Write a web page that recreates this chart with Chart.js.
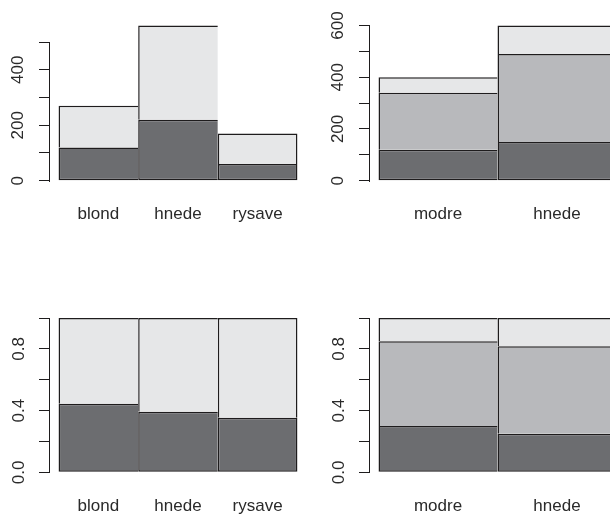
<!DOCTYPE html>
<html>
<head>
<meta charset="utf-8">
<script src="https://cdn.jsdelivr.net/npm/chart.js@4.4.1/dist/chart.umd.min.js"></script>
<style>
  html, body { margin: 0; padding: 0; background: #fff; }
  body { width: 610px; height: 515px; overflow: hidden; position: relative; }
  .panel { position: absolute; }
</style>
</head>
<body>
<div class="panel" style="left:0;top:0;width:307px;height:257px"><canvas id="c1"></canvas></div>
<div class="panel" style="left:320px;top:0;width:306px;height:257px"><canvas id="c2"></canvas></div>
<div class="panel" style="left:0;top:292px;width:307px;height:223px"><canvas id="c3"></canvas></div>
<div class="panel" style="left:320px;top:292px;width:306px;height:223px"><canvas id="c4"></canvas></div>
<script>
// categories
const hair = ["blond", "hnede", "rysave"];
const eyes = ["modre", "hnede"];

// counts per hair colour (one array per eye colour)
const eyeModre = [120, 220, 60];
const eyeHnede = [150, 340, 110];

// counts per eye colour (one array per hair colour)
const hairBlond = [120, 150];
const hairHnede = [220, 340];
const hairRysave = [60, 110];

// proportions inside each hair colour
const propModre = [0.444, 0.393, 0.353];
const propHnede = [0.556, 0.607, 0.647];

// proportions inside each eye colour
const propBlond = [0.30, 0.25];
const propHnedeHair = [0.55, 0.567];
const propRysave = [0.15, 0.183];

// y ticks and the ones that get a label
const ticksTop1 = [0, 100, 200, 300, 400, 500];
const labelsTop1 = [0, 200, 400];
const ticksTop2 = [0, 100, 200, 300, 400, 500, 600];
const labelsTop2 = [0, 200, 400, 600];
const ticksProp = [0, 0.2, 0.4, 0.6, 0.8, 1];
const labelsProp = [0, 0.4, 0.8];

const DARK = "#6c6d70", MID = "#b8b9bc", LIGHT = "#e6e7e8", INK = "#1e1c1d";
const FONT = { family: "'Liberation Sans', Arial, Helvetica, sans-serif", size: 17 };
const TXT = "#2a2a2a";
const BW = 1.5;

// axis line only from first to last tick, like R
const spine = {
    id: "spine",
    afterDraw(chart) {
        const s = chart.scales.y, ctx = chart.ctx;
        const t = s.ticks;
        const x = Math.round(s.right) + 0.5;
        const y0 = Math.round(s.getPixelForValue(t[0].value)) + 1;
        const y1 = Math.round(s.getPixelForValue(t[t.length - 1].value));
        ctx.save();
        ctx.strokeStyle = INK;
        ctx.lineWidth = 1;
        ctx.beginPath();
        ctx.moveTo(x, y0);
        ctx.lineTo(x, y1);
        ctx.stroke();
        ctx.restore();
    }
};

function makeChart(id, cats, series, yTicks, yLabels, fmt, lay) {
    const n = cats.length;
    // R style limits: -1% of max, then 4% extension
    const hi = Math.max(...cats.map((c, i) => series.reduce((s, d) => s + d.data[i], 0)));
    const lo = -0.01 * hi;
    const ext = (hi - lo) * 0.04;

    return new Chart(document.getElementById(id), {
        type: "bar",
        data: {
            datasets: series.map((d, k) => ({
                data: d.data.map((v, i) => ({ x: i, y: v })),
                backgroundColor: d.color,
                borderColor: INK,
                borderSkipped: false,
                inflateAmount: 0,
                borderWidth: ctx => ({
                    top: BW,
                    left: BW,
                    right: ctx.dataIndex === n - 1 ? BW : 0,
                    bottom: k === 0 ? BW : 0
                }),
                barPercentage: 1,
                categoryPercentage: 1
            }))
        },
        options: {
            responsive: true,
            maintainAspectRatio: false,
            animation: false,
            layout: { padding: { top: lay.padTop, right: 0, bottom: 0, left: 0 } },
            plugins: { legend: { display: false }, tooltip: { enabled: false } },
            scales: {
                x: {
                    type: "linear",
                    stacked: true,
                    offset: false,
                    bounds: "data",
                    min: -0.5 - 0.04 * n,
                    max: n - 0.5 + 0.04 * n,
                    afterBuildTicks: s => { s.ticks = cats.map((c, i) => ({ value: i })); },
                    afterFit: s => { s.height = lay.xHeight; },
                    grid: { display: false, drawTicks: false, offset: false },
                    border: { display: false },
                    ticks: {
                        callback: v => cats[v],
                        padding: 15.8,
                        minRotation: 0,
                        maxRotation: 0,
                        autoSkip: false,
                        font: FONT,
                        color: TXT
                    }
                },
                y: {
                    type: "linear",
                    stacked: true,
                    min: lo - ext,
                    max: hi + ext,
                    afterBuildTicks: s => { s.ticks = yTicks.map(v => ({ value: v })); },
                    afterFit: s => { s.width = 49; },
                    grid: { drawOnChartArea: false, drawTicks: true, tickLength: 10, color: INK, lineWidth: 1 },
                    border: { display: false },
                    ticks: {
                        callback: v => yLabels.includes(v) ? fmt(v) : "",
                        padding: lay.yPad,
                        minRotation: 90,
                        maxRotation: 90,
                        crossAlign: "center",
                        autoSkip: false,
                        font: FONT,
                        color: TXT
                    }
                }
            }
        },
        plugins: [spine]
    });
}

const topRow = { padTop: 19.2, xHeight: 68.5, yPad: 6.6 };
const bottomRow = { padTop: 19.8, xHeight: 34.9, yPad: 8.2 };
const intFmt = v => String(v);
const decFmt = v => v.toFixed(1);

makeChart("c1", hair,
    [{ data: eyeModre, color: DARK }, { data: eyeHnede, color: LIGHT }],
    ticksTop1, labelsTop1, intFmt, topRow);

makeChart("c2", eyes,
    [{ data: hairBlond, color: DARK }, { data: hairHnede, color: MID }, { data: hairRysave, color: LIGHT }],
    ticksTop2, labelsTop2, intFmt, topRow);

makeChart("c3", hair,
    [{ data: propModre, color: DARK }, { data: propHnede, color: LIGHT }],
    ticksProp, labelsProp, decFmt, bottomRow);

makeChart("c4", eyes,
    [{ data: propBlond, color: DARK }, { data: propHnedeHair, color: MID }, { data: propRysave, color: LIGHT }],
    ticksProp, labelsProp, decFmt, bottomRow);
</script>
</body>
</html>
